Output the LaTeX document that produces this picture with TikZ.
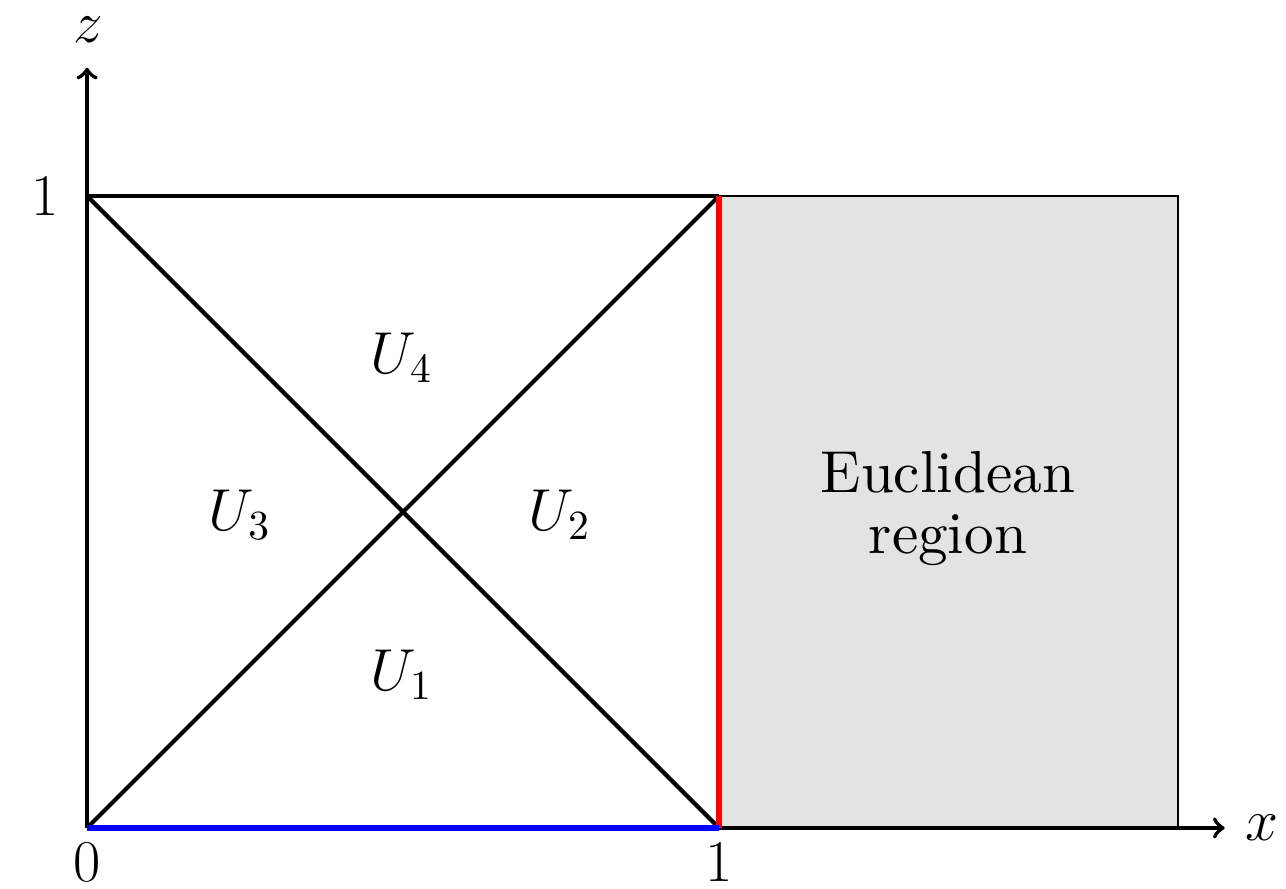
\documentclass[tikz,border=0pt]{standalone}
\usepackage{fix-cm}
\begin{document}
\begin{tikzpicture}[x=6cm,y=6cm,font=\fontsize{16}{16.5}\selectfont]
  \definecolor{eucgray}{RGB}{227,227,227}
  \tikzset{
    edge/.style={line width=1.1pt},
    axis/.style={line width=1.1pt,->},
    lab/.style={inner sep=1pt}
  }
  \useasboundingbox (-0.1377,-0.0965) rectangle (1.897,1.310);

  % corners of the unit square
  \coordinate (O) at (0,0);
  \coordinate (A) at (1,0);
  \coordinate (B) at (1,1);
  \coordinate (C) at (0,1);
  \coordinate (E) at (1.726,1);
  \coordinate (xend) at (1.80,0);
  \coordinate (zend) at (0,1.203);

  \fill[eucgray] (A) rectangle (E);
  \draw[line width=0.5pt] (A) rectangle (E);

  \draw[axis] (O) -- (xend);
  \draw[axis] (O) -- (zend);
  \node[lab] (xlab) at (1.859,0) {$x$};
  \node[lab] (zlab) at (0.0016,1.263) {$z$};

  \draw[edge] (C) -- (B);
  \draw[edge] (O) -- (B);
  \draw[edge] (C) -- (A);
  \draw[red,line width=1.5pt] (A) -- (B);
  \draw[blue,line width=1.5pt] (O) -- (A);

  \node[lab] (zero) at (0,-0.054) {0};
  \node[lab] (oneX) at (1,-0.054) {1};
  \node[lab] (oneZ) at (-0.066,1) {1};

  \node (U1) at (0.498,0.242) {$U_1$};
  \node (U2) at (0.748,0.495) {$U_2$};
  \node (U3) at (0.242,0.495) {$U_3$};
  \node (U4) at (0.498,0.744) {$U_4$};

  \node[align=center,scale=1.6,font=\fontsize{10}{10.3}\selectfont] (euc) at (1.362,0.506) {Euclidean\\region};
\end{tikzpicture}
\end{document}
